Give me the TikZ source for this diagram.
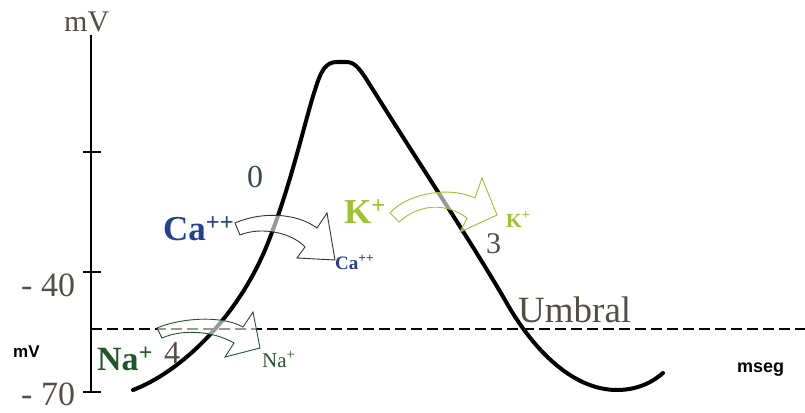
\documentclass[tikz,border=0pt]{standalone}
\usepackage{fontspec}
\setmainfont{Liberation Serif}
\newfontfamily\labsans{Liberation Sans}
\definecolor{cablue}{RGB}{35,65,140}
\definecolor{kgreen}{RGB}{155,195,45}
\definecolor{nagreen}{RGB}{35,85,40}
\definecolor{numgray}{RGB}{85,78,70}
\definecolor{phasegray}{RGB}{60,70,90}
\newcommand{\fs}[1]{\fontsize{#1}{#1}\selectfont}

\begin{document}
\begin{tikzpicture}[x=1pt,y=-1pt,
  lbl/.style={inner sep=0pt,anchor=base west},
  ionarrow/.style={draw=#1,line width=0.9pt,fill=white,fill opacity=0.6}]
\useasboundingbox (0,0) rectangle (805,412);
% axis and threshold
\draw[line width=1.6pt] (91,35) -- (91,392);
\foreach \ty in {152,272,392}
  \draw[line width=1.6pt] (83,\ty) -- (101,\ty);
\draw[line width=1.6pt,dash pattern=on 11pt off 5pt] (91,329) -- (805,329);
% action potential
\draw[line width=4pt,line cap=round,line join=round] (133,390)
  .. controls (180,372) and (235,320) .. (265,250)
  .. controls (290,190) and (305,120) .. (315,90)
  .. controls (321,70) and (326,62) .. (337,62) -- (346,62)
  .. controls (354,62) and (358,67) .. (365,77)
  .. controls (420,165) and (470,240) .. (505,300)
  .. controls (530,345) and (570,390) .. (617,390)
  .. controls (640,390) and (655,380) .. (663,373);
% ion arrows
\draw[ionarrow=black!80] (235,223) .. controls (260,212) and (295,212) .. (317,228)
  -- (327,213) -- (335,260) -- (297,258) -- (305,247)
  .. controls (292,233) and (262,226) .. (240,235) -- cycle;
\draw[ionarrow=nagreen] (157,328) .. controls (180,318) and (222,315) .. (243,327)
  -- (253,312) -- (260,348) -- (225,357) -- (234,343)
  .. controls (215,332) and (185,328) .. (162,338) -- cycle;
\draw[ionarrow=kgreen] (390,213) .. controls (405,195) and (447,185) .. (475,198)
  -- (482,178) -- (497,215) -- (460,232) -- (467,218)
  .. controls (447,203) and (420,203) .. (399,222) -- cycle;
% labels
\node[lbl,numgray] (mvtop) at (64,32) {\fs{30}mV};
\node[lbl,numgray] (m40) at (21,296) {\fs{34}- 40};
\node[lbl,numgray] (m70) at (21,405) {\fs{34}- 70};
\node[lbl] (mvleft) at (13,357) {\labsans\bfseries\fs{17}mV};
\node[lbl] (mseg) at (737,372) {\labsans\bfseries\fs{18}mseg};
\node[lbl,phasegray] (ph0) at (247,187) {\fs{32}0};
\node[lbl,numgray] (ph3) at (486,253) {\fs{30}3};
\node[lbl,numgray] (ph4) at (164,363) {\fs{32}4};
\node[lbl,numgray] (umbral) at (518,322) {\fs{37}Umbral};
\node[lbl,cablue] (cain) at (163,240) {\bfseries\fs{35}Ca\textsuperscript{++}};
\node[lbl,cablue] (caout) at (335,269) {\bfseries\fs{19}Ca\textsuperscript{++}};
\node[lbl,kgreen] (kin) at (344,223) {\bfseries\fs{35}K\textsuperscript{+}};
\node[lbl,kgreen] (kout) at (506,227) {\bfseries\fs{20}K\textsuperscript{+}};
\node[lbl,nagreen] (nain) at (97,370) {\bfseries\fs{34}Na\textsuperscript{+}};
\node[lbl,nagreen] (naout) at (262,367) {\fs{21}Na\textsuperscript{+}};
\end{tikzpicture}
\end{document}
